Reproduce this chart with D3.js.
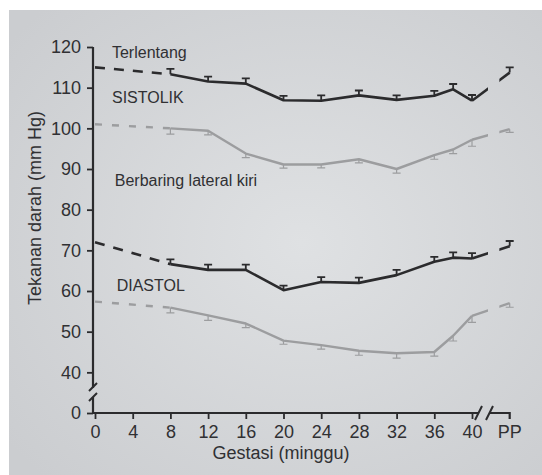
<!DOCTYPE html>
<html>
<head>
<meta charset="utf-8">
<script src="https://cdn.jsdelivr.net/npm/d3@7/dist/d3.min.js"></script>
<style>
  body { margin: 0; background: #ffffff; }
  svg { display: block; }
</style>
</head>
<body>
<div id="chart"></div>
<script>
// gestation weeks with measured points
const weeks = [8, 12, 16, 20, 24, 28, 32, 36, 38, 40];

// blood pressure (mm Hg)
const sysSupine  = [113.3, 111.5, 111.0, 106.9, 106.8, 108.1, 107.0, 108.0, 109.6, 106.8];
const sysLateral = [100.0, 99.4, 93.8, 91.1, 91.1, 92.4, 90.0, 93.4, 94.8, 97.2];
const diaSupine  = [66.6, 65.2, 65.2, 60.2, 62.2, 62.0, 63.9, 67.2, 68.2, 68.0];
const diaLateral = [55.9, 54.0, 52.0, 47.8, 46.7, 45.3, 44.7, 45.0, 49.0, 53.9];

// error whiskers
const errSysSupine  = [1.3, 1.2, 1.3, 1.1, 1.3, 1.2, 1.1, 1.2, 1.3, 1.4];
const errSysLateral = [1.4, 1.0, 1.0, 0.9, 0.8, 0.9, 1.0, 1.0, 1.0, 1.6];
const errDiaSupine  = [1.2, 1.3, 1.3, 1.1, 1.2, 1.3, 1.3, 1.2, 1.3, 1.3];
const errDiaLateral = [1.3, 1.2, 1.0, 0.9, 1.0, 1.1, 1.2, 1.0, 1.3, 1.6];

// dashed extrapolation start (week 0) and postpartum values
const startValues = [115.0, 101.0, 72.0, 57.4];
const ppValues    = [113.7, 99.8, 71.0, 57.0];
const ppErr       = [1.3, 0.8, 1.3, 1.0];

// axis ticks
const xTicks = [0, 4, 8, 12, 16, 20, 24, 28, 32, 36, 40];
const yTickValues = [30, 40, 50, 60, 70, 80, 90, 100, 110, 120];
const yTickLabels = ['0', '40', '50', '60', '70', '80', '90', '100', '110', '120'];

// annotations
const labelTexts = ['Terlentang', 'SISTOLIK', 'Berbaring lateral kiri', 'DIASTOL'];
const labelWeeks = [1.8, 1.8, 2.1, 2.3];
const labelValues = [117.4, 106.3, 85.7, 60.1];

const ppWeek = 44;          // position of the PP column on the week scale
const breakGap = [41.7, 42.9];

const width = 542, height = 475;
const font = '"Liberation Sans", Arial, sans-serif';
const ink = '#2b2b2d';
const grey = '#9c9d9f';

const svg = d3.select('#chart')
    .append('svg')
    .attr('width', width)
    .attr('height', height);

// paper background
const defs = svg.append('defs');
const grad = defs.append('radialGradient')
    .attr('id', 'paper')
    .attr('cx', '55%').attr('cy', '50%').attr('r', '70%');
grad.append('stop').attr('offset', '0%').attr('stop-color', '#dfe1e3');
grad.append('stop').attr('offset', '100%').attr('stop-color', '#cbcdd0');

svg.append('rect')
    .attr('width', width).attr('height', height)
    .attr('fill', '#ffffff');
svg.append('rect')
    .attr('x', 9).attr('y', 10)
    .attr('width', width - 9).attr('height', height - 10)
    .attr('fill', 'url(#paper)');

const x = d3.scaleLinear().domain([0, 40]).range([95, 472]);
const y = d3.scaleLinear().domain([30, 120]).range([413, 47]);

// clip out the break between week 40 and PP
defs.append('clipPath').attr('id', 'brk')
    .selectAll('rect')
    .data([[0, breakGap[0]], [breakGap[1], 50]])
    .join('rect')
    .attr('x', d => x(d[0]))
    .attr('width', d => x(d[1]) - x(d[0]))
    .attr('y', 0)
    .attr('height', height);

const series = [
    {values: sysSupine,  err: errSysSupine,  start: startValues[0], pp: ppValues[0], ppErr: ppErr[0], color: ink,  w: 2.6, dir: 1,  dash: '10,9'},
    {values: sysLateral, err: errSysLateral, start: startValues[1], pp: ppValues[1], ppErr: ppErr[1], color: grey, w: 2.4, dir: -1, dash: '7,10'},
    {values: diaSupine,  err: errDiaSupine,  start: startValues[2], pp: ppValues[2], ppErr: ppErr[2], color: ink,  w: 2.6, dir: 1,  dash: '10,9'},
    {values: diaLateral, err: errDiaLateral, start: startValues[3], pp: ppValues[3], ppErr: ppErr[3], color: grey, w: 2.4, dir: -1, dash: '7,10'}
];

const line = d3.line()
    .x(d => x(d[0]))
    .y(d => y(d[1]));

series.forEach(s => {
    const g = svg.append('g');
    const pts = weeks.map((w, i) => [w, s.values[i]]);

    // dashed start from week 0
    g.append('path')
        .attr('d', line([[0, s.start], pts[0]]))
        .attr('fill', 'none')
        .attr('stroke', s.color)
        .attr('stroke-width', s.w)
        .attr('stroke-dasharray', s.dash);

    // solid measured line
    g.append('path')
        .attr('d', line(pts))
        .attr('fill', 'none')
        .attr('stroke', s.color)
        .attr('stroke-width', s.w)
        .attr('stroke-linejoin', 'round');

    // week 40 to PP, broken
    g.append('path')
        .attr('d', line([pts[pts.length - 1], [ppWeek, s.pp]]))
        .attr('clip-path', 'url(#brk)')
        .attr('fill', 'none')
        .attr('stroke', s.color)
        .attr('stroke-width', s.w);

    // error whiskers
    const bars = pts.map((p, i) => [p[0], p[1], s.err[i]]).concat([[ppWeek, s.pp, s.ppErr]]);
    g.selectAll('path.err')
        .data(bars)
        .join('path')
        .attr('class', 'err')
        .attr('d', d => {
            const cx = x(d[0]), y0 = y(d[1]), y1 = y(d[1] + s.dir * d[2]);
            return `M${cx},${y0}V${y1}M${cx - 4},${y1}H${cx + 4}`;
        })
        .attr('fill', 'none')
        .attr('stroke', s.color)
        .attr('stroke-width', s.color === ink ? 1.8 : 1.2);
});

// y axis
const yAxis = svg.append('g')
    .attr('transform', 'translate(93,0)')
    .call(d3.axisLeft(y)
        .tickValues(yTickValues)
        .tickFormat((d, i) => yTickLabels[i])
        .tickSize(6)
        .tickPadding(6));
yAxis.select('.domain').remove();
yAxis.selectAll('line').attr('stroke', ink).attr('stroke-width', 1.8);
yAxis.selectAll('text')
    .attr('font-family', font)
    .attr('font-size', 18)
    .attr('fill', '#303033');

// y axis line with break
svg.append('path')
    .attr('d', `M93,${y(120)}V388M93,397V${y(30)}`)
    .attr('fill', 'none')
    .attr('stroke', ink)
    .attr('stroke-width', 2.2);
svg.append('path')
    .attr('d', 'M97,383L89,391M97,393L89,401')
    .attr('fill', 'none')
    .attr('stroke', ink)
    .attr('stroke-width', 2);

// x axis
const xAxis = svg.append('g')
    .attr('transform', `translate(0,${y(30)})`)
    .call(d3.axisBottom(x)
        .tickValues(xTicks)
        .tickSize(6)
        .tickPadding(6));
xAxis.select('.domain').remove();
xAxis.selectAll('line').attr('stroke', ink).attr('stroke-width', 1.8);
xAxis.selectAll('text')
    .attr('font-family', font)
    .attr('font-size', 18)
    .attr('fill', '#303033');

// PP tick
const xpp = x(ppWeek);
svg.append('text')
    .attr('x', xpp)
    .attr('y', y(30) + 25)
    .attr('text-anchor', 'middle')
    .attr('font-family', font)
    .attr('font-size', 18)
    .attr('fill', '#303033')
    .text('PP');

// x axis line with break
const x0 = y(30);
svg.append('path')
    .attr('d', `M92,${x0}H${x(40) + 6}M${x(40) + 18},${x0}H${xpp}V${x0 + 6}`)
    .attr('fill', 'none')
    .attr('stroke', ink)
    .attr('stroke-width', 2.2);
svg.append('path')
    .attr('d', `M${x(40) + 3},${x0 + 7}L${x(40) + 10},${x0 - 7}M${x(40) + 14},${x0 + 7}L${x(40) + 21},${x0 - 7}`)
    .attr('fill', 'none')
    .attr('stroke', ink)
    .attr('stroke-width', 2);

// annotations
svg.append('g')
    .selectAll('text')
    .data(labelTexts)
    .join('text')
    .attr('x', (d, i) => x(labelWeeks[i]))
    .attr('y', (d, i) => y(labelValues[i]))
    .attr('font-family', font)
    .attr('font-size', 16)
    .attr('fill', '#303033')
    .text(d => d);

// axis titles
svg.append('text')
    .attr('transform', 'translate(41,208) rotate(-90)')
    .attr('text-anchor', 'middle')
    .attr('font-family', font)
    .attr('font-size', 18)
    .attr('fill', '#303033')
    .text('Tekanan darah (mm Hg)');

svg.append('text')
    .attr('x', 281)
    .attr('y', 459)
    .attr('text-anchor', 'middle')
    .attr('font-family', font)
    .attr('font-size', 18)
    .attr('fill', '#303033')
    .text('Gestasi (minggu)');
</script>
</body>
</html>
